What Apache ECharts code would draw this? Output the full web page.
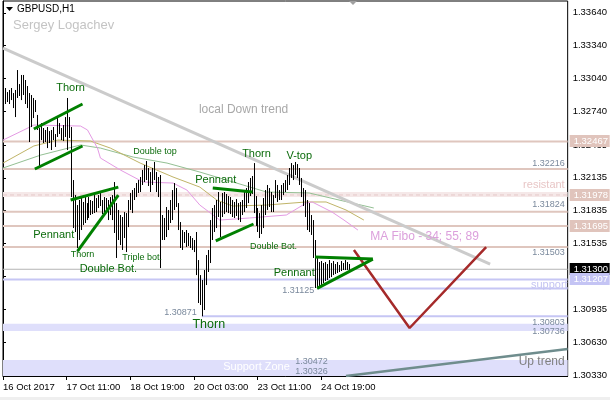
<!DOCTYPE html>
<html><head><meta charset="utf-8">
<script src="https://cdn.jsdelivr.net/npm/echarts@6/dist/echarts.min.js"></script>
<style>html,body{margin:0;padding:0;background:#fff}#c{width:610px;height:400px}</style>
</head><body><div id="c"></div>
<script>
// ---------- data ----------
const xTickBars = [0, 32, 64, 96, 128, 160];
const xTickLabels = ['16 Oct 2017', '17 Oct 11:00', '18 Oct 19:00', '20 Oct 03:00', '23 Oct 11:00', '24 Oct 19:00'];
const yTickValues = [1.30330, 1.30630, 1.30935, 1.31235, 1.31535, 1.31835, 1.32135, 1.32435, 1.32740, 1.33040, 1.33340, 1.33640];

const barHigh = [
1.32990,1.32954,1.32917,1.32936,1.32954,1.32908,1.32936,1.33118,1.32990,1.33073,
1.33073,1.33027,1.32972,1.32908,1.32890,1.32863,1.32844,1.32708,1.32589,1.32634,
1.32589,1.32571,1.32598,1.32561,1.32571,1.32598,1.32534,1.32689,1.32634,1.32589,
1.32616,1.32689,1.32863,1.32689,1.32598,1.32114,1.31977,1.31886,1.31932,1.31959,
1.31914,1.31959,1.31904,1.31959,1.31932,1.31923,1.31977,1.31950,1.31977,1.31996,
1.31932,1.31959,1.31950,1.31932,1.31959,1.31977,1.32096,1.31904,1.31841,1.31795,
1.31777,1.31822,1.31813,1.31932,1.31996,1.32023,1.32041,1.32087,1.32114,1.32142,
1.32206,1.32251,1.32288,1.32224,1.32187,1.32224,1.32279,1.32187,1.32142,1.32160,
1.31795,1.31768,1.31868,1.31841,1.31932,1.32023,1.32087,1.32041,1.31904,1.31731,
1.31658,1.31640,1.31658,1.31631,1.31603,1.31585,1.31567,1.31640,1.31384,1.31247,
1.31202,1.31293,1.31430,1.31476,1.31749,1.31859,1.31886,1.31932,1.32005,1.31914,
1.31996,1.32005,1.31987,1.31968,1.31959,1.31932,1.31914,1.31941,1.31904,1.31914,
1.31932,1.32023,1.32041,1.32096,1.32133,1.32151,1.32269,1.31968,1.31859,1.31813,
1.31886,1.31950,1.32023,1.32069,1.32041,1.32005,1.31977,1.32114,1.32069,1.32023,
1.32069,1.32087,1.32114,1.32160,1.32224,1.32269,1.32251,1.32279,1.32260,1.32224,
1.32133,1.32041,1.32023,1.31932,1.31904,1.31795,1.31749,1.31567,1.31403,1.31366,
1.31375,1.31357,1.31366,1.31348,1.31384,1.31357,1.31375,1.31348,1.31366,1.31339,
1.31375,1.31357,1.31384,1.31366,1.31348];
const barLow = [
1.32881,1.32808,1.32826,1.32808,1.32844,1.32771,1.32689,1.32863,1.32881,1.32844,
1.32890,1.32808,1.32771,1.32461,1.32598,1.32680,1.32735,1.32571,1.32224,1.32479,
1.32452,1.32461,1.32406,1.32452,1.32388,1.32479,1.32416,1.32507,1.32534,1.32479,
1.32470,1.32507,1.32388,1.32498,1.31959,1.31676,1.31640,1.31494,1.31567,1.31658,
1.31704,1.31722,1.31749,1.31768,1.31795,1.31804,1.31813,1.31822,1.31859,1.31877,
1.31804,1.31822,1.31841,1.31749,1.31795,1.31749,1.31631,1.31403,1.31567,1.31521,
1.31476,1.31585,1.31457,1.31685,1.31841,1.31813,1.31932,1.31959,1.31996,1.32005,
1.32069,1.32096,1.32114,1.32060,1.32005,1.32069,1.32114,1.32005,1.31959,1.31311,
1.31567,1.31567,1.31594,1.31658,1.31722,1.31749,1.31841,1.31868,1.31658,1.31494,
1.31476,1.31540,1.31503,1.31512,1.31494,1.31476,1.31457,1.31247,1.30992,1.30974,
1.30871,1.30928,1.31156,1.31275,1.31357,1.31567,1.31640,1.31676,1.31777,1.31594,
1.31777,1.31804,1.31822,1.31813,1.31804,1.31777,1.31768,1.31786,1.31749,1.31731,
1.31795,1.31822,1.31859,1.31904,1.31968,1.31987,1.31813,1.31695,1.31640,1.31585,
1.31622,1.31676,1.31795,1.31841,1.31868,1.31822,1.31822,1.31950,1.31914,1.31932,
1.31932,1.31977,1.32005,1.32023,1.32069,1.32133,1.32114,1.32160,1.32133,1.32069,
1.31959,1.31877,1.31777,1.31658,1.31640,1.31613,1.31403,1.31129,1.31125,1.31130,
1.31156,1.31174,1.31193,1.31202,1.31220,1.31229,1.31247,1.31257,1.31266,1.31275,
1.31284,1.31293,1.31293,1.31293,1.31284];

// moving averages (bar index, price)
const maFast = [[0,1.32479],[10.5,1.32571],[15.5,1.32616],[39,1.32607],[42.5,1.32571],[47.5,1.32406],[49,1.32315],[59,1.32206],[70.5,1.32096],[85.5,1.32087],[92.5,1.32023],[99,1.31886],[109,1.31749],[124,1.31768],[142.5,1.31795],[152.5,1.31904],[155.5,1.31914],[165.5,1.31822],[171.5,1.31749],[178.5,1.31658]];
const maMid = [[0,1.32269],[15.5,1.32425],[27.5,1.32479],[44,1.32470],[54,1.32406],[69,1.32269],[85.5,1.32142],[99,1.32050],[107.5,1.31932],[115.5,1.31877],[132.5,1.31886],[152.5,1.31914],[162.5,1.31914],[172.5,1.31841],[181.5,1.31749]];
const maSlow = [[0,1.32224],[19,1.32342],[39,1.32434],[49,1.32406],[65.5,1.32324],[82.5,1.32269],[99,1.32187],[132.5,1.32005],[154,1.31996],[169,1.31932],[186.5,1.31859]];

const resistanceLevels = [1.32467, 1.32216, 1.31824, 1.31695, 1.31503];
const resistantLevel = 1.31978;
const supportLevels = [[0, 1.31207], [158, 1.31125], [100, 1.30871]];
const supportBands = [[1.30736, 1.30803], [1.30326, 1.30472]];
const bidPrice = 1.31300;
const priceTags = [[1.32467, 'res'], [1.31978, 'res'], [1.31695, 'res'], [1.31300, 'bid'], [1.31207, 'sup']];

const downTrend = [[0, 1.33319], [245, 1.31348]];
const upTrend = [[172.5, 1.30326], [284, 1.30572]];
const forecastV = [[176.5, 1.31476], [204.5, 1.30764], [243, 1.31503]];
const patternLines = [
  [[15.5, 1.32580], [40, 1.32808]],
  [[16, 1.32215], [40, 1.32425]],
  [[34, 1.31932], [58, 1.32050]],
  [[37.5, 1.31466], [58, 1.31977]],
  [[105.5, 1.32041], [125.5, 1.32005]],
  [[107, 1.31558], [126, 1.31713]],
  [[157, 1.31412], [186, 1.31393]],
  [[158, 1.31125], [186, 1.31393]]
];

const annotations = [
  ['Thorn', 34, 1.32954, 'pat'],
  ['Pennant', 25.5, 1.31613, 'pat'],
  ['Thorn', 40, 1.31439, 'patS'],
  ['Double Bot.', 53, 1.31302, 'pat'],
  ['Triple bot.', 70, 1.31403, 'patS'],
  ['Double top', 76.5, 1.32379, 'patS'],
  ['Thorn', 127.5, 1.32352, 'pat'],
  ['V-top', 149, 1.32333, 'pat'],
  ['Pennant', 107, 1.32114, 'pat'],
  ['Double Bot.', 136, 1.31512, 'patS'],
  ['Pennant', 146.5, 1.31266, 'pat'],
  ['Thorn', 103.5, 1.30791, 'patL'],
  ['local Down trend', 121, 1.32753, 'trend'],
  ['MA Fibo - 34; 55; 89', 212, 1.31594, 'fibo'],
  ['Up trend', 282.5, 1.30453, 'upt'],
  ['resistant', 282.5, 1.32069, 'res'],
  ['support', 284, 1.31156, 'sup'],
  ['Support Zone', 127.5, 1.30408, 'zone'],
  ['1.32216', 282.5, 1.32269, 'lvl'],
  ['1.31824', 282.5, 1.31895, 'lvl'],
  ['1.31503', 282.5, 1.31457, 'lvl'],
  ['1.30803', 282.5, 1.30818, 'lvl'],
  ['1.30736', 282.5, 1.30736, 'lvl'],
  ['1.30871', 97.5, 1.30901, 'lvl'],
  ['1.31125', 156.5, 1.31110, 'lvl'],
  ['1.30472', 147, 1.30462, 'lvlL'],
  ['1.30326', 147, 1.30371, 'lvlL']
];

// ---------- styles ----------
const FONT = 'Liberation Sans, Arial, sans-serif';
const X_MAX = 284;
const annStyles = {
  pat:  {fill: '#0b6b0b', size: 11, align: 'center'},
  patS: {fill: '#0b6b0b', size: 9, align: 'center'},
  patL: {fill: '#0b6b0b', size: 12.5, align: 'center'},
  trend:{fill: '#a8a8a8', size: 12, align: 'center'},
  fibo: {fill: '#dca0dc', size: 12, align: 'center'},
  upt:  {fill: '#808080', size: 12, align: 'right'},
  res:  {fill: '#e8c6c6', size: 11, align: 'right'},
  sup:  {fill: '#c4c4f2', size: 11, align: 'right'},
  zone: {fill: '#ffffff', size: 11, align: 'center'},
  lvl:  {fill: '#7a899c', size: 9, align: 'right'},
  lvlL: {fill: '#7a899c', size: 9, align: 'left'}
};
const tagColors = {res: '#e0c4bc', bid: '#000000', sup: '#c4c4f4'};

function lineSeries(data, color, width, z, type) {
  return {type: 'line', data: data, symbol: 'none', silent: true, animation: false, z: z, clip: true,
    lineStyle: {color: color, width: width, type: type || 'solid'}};
}

const series = [];
// bands
series.push({
  type: 'custom', silent: true, animation: false, z: 1,
  data: supportBands.map(b => [b[0], b[1]]),
  encode: {y: [0, 1]},
  renderItem: (p, api) => {
    const a = api.coord([0, api.value(1)]);
    const b = api.coord([X_MAX, api.value(0)]);
    return {type: 'rect', shape: {x: a[0], y: a[1], width: b[0] - a[0], height: b[1] - a[1]}, style: {fill: '#dfdffb'}};
  }
});
// resistant band (pale) behind dashed level
series.push({
  type: 'custom', silent: true, animation: false, z: 1,
  data: [[resistantLevel]],
  encode: {y: 0},
  renderItem: (p, api) => {
    const a = api.coord([0, api.value(0)]);
    const b = api.coord([X_MAX, api.value(0)]);
    return {type: 'rect', shape: {x: a[0], y: a[1] - 3, width: b[0] - a[0], height: 5}, style: {fill: '#f5e8e8'}};
  }
});
resistanceLevels.forEach(v => series.push(lineSeries([[0, v], [X_MAX, v]], '#dfc6be', 2, 2)));
series.push(lineSeries([[0, resistantLevel], [X_MAX, resistantLevel]], '#e6c8c8', 1, 2, [4, 3]));
supportLevels.forEach(s => series.push(lineSeries([[s[0], s[1]], [X_MAX, s[1]]], '#c6c6f4', 2, 2)));
series.push(lineSeries([[0, bidPrice], [X_MAX, bidPrice]], '#b4b4b4', 1, 2));
// moving averages
series.push(lineSeries(maSlow, '#93c093', 1, 3));
series.push(lineSeries(maMid, '#c0b468', 1, 3));
series.push(lineSeries(maFast, '#e49ae4', 1, 3));
// trend lines
series.push(lineSeries(downTrend, '#cbcbcb', 3, 3));
// bars
series.push({
  type: 'custom', silent: true, animation: false, z: 4,
  data: barHigh.map((h, i) => [i, h, barLow[i]]),
  encode: {x: 0, y: [1, 2]},
  renderItem: (p, api) => {
    const t = api.coord([api.value(0), api.value(1)]);
    const b = api.coord([api.value(0), api.value(2)]);
    const x = Math.round(t[0]) + 0.5;
    return {type: 'line', shape: {x1: x, y1: t[1], x2: x, y2: b[1]}, style: {stroke: '#000', lineWidth: 1}};
  }
});
series.push(lineSeries(upTrend, '#6f8d8d', 2.5, 5));
series.push(lineSeries(forecastV, '#a52a2a', 2.5, 5));
patternLines.forEach(l => series.push(lineSeries(l, '#008000', 3, 5)));
// annotation texts
series.push({
  type: 'custom', silent: true, animation: false, z: 6, clip: false,
  data: annotations.map(a => [a[1], a[2]]),
  encode: {x: 0, y: 1},
  renderItem: (p, api) => {
    const a = annotations[p.dataIndex];
    const st = annStyles[a[3]];
    const pt = api.coord([api.value(0), api.value(1)]);
    return {type: 'text', x: pt[0], y: pt[1], style: {text: a[0], fill: st.fill, fontSize: st.size, fontFamily: FONT, align: st.align, verticalAlign: 'middle'}};
  }
});
// price tags on the right axis
series.push({
  type: 'custom', silent: true, animation: false, z: 10, clip: false,
  data: priceTags.map(t => [X_MAX, t[0]]),
  encode: {x: 0, y: 1},
  renderItem: (p, api) => {
    const t = priceTags[p.dataIndex];
    const pt = api.coord([api.value(0), api.value(1)]);
    return {type: 'group', children: [
      {type: 'rect', shape: {x: pt[0] + 2, y: Math.round(pt[1]) - 6, width: 40, height: 12}, style: {fill: tagColors[t[1]]}},
      {type: 'text', x: pt[0] + 6, y: Math.round(pt[1]), style: {text: t[0].toFixed(5), fill: '#ffffff', fontSize: 9.5, fontFamily: FONT, align: 'left', verticalAlign: 'middle'}}
    ]};
  }
});

const option = {
  animation: false,
  backgroundColor: '#ffffff',
  grid: {left: 2, right: 40, top: 1, bottom: 24, show: true, borderColor: '#000', borderWidth: 1, backgroundColor: 'transparent'},
  xAxis: {
    type: 'value', min: 0, max: X_MAX,
    axisLine: {lineStyle: {color: '#000', width: 1}},
    axisTick: {show: true, customValues: xTickBars, length: 4, lineStyle: {color: '#000'}},
    axisLabel: {customValues: xTickBars, formatter: v => { const k = xTickBars.indexOf(Math.round(v)); return k >= 0 ? xTickLabels[k] : ''; },
      align: 'left', margin: 6, fontSize: 9.5, color: '#000', fontFamily: FONT},
    splitLine: {show: false}
  },
  yAxis: {
    type: 'value', position: 'right', min: 1.30326, max: 1.33748, scale: true,
    axisLine: {show: true, lineStyle: {color: '#000', width: 1}},
    axisTick: {show: true, customValues: yTickValues, length: 3, lineStyle: {color: '#000'}},
    axisLabel: {customValues: yTickValues, formatter: v => v.toFixed(5), margin: 5, fontSize: 9.5, color: '#000', fontFamily: FONT},
    splitLine: {show: false}
  },
  graphic: [
    {type: 'polygon', shape: {points: [[6, 7], [13, 7], [9.5, 11]]}, style: {fill: '#000'}},
    {type: 'text', x: 17, y: 9, style: {text: 'GBPUSD,H1', fill: '#000', fontSize: 10, fontFamily: FONT, verticalAlign: 'middle'}},
    {type: 'text', x: 13, y: 25, style: {text: 'Sergey Logachev', fill: '#c4c4c4', fontSize: 13, fontFamily: FONT, verticalAlign: 'middle'}},
    {type: 'polygon', shape: {points: [[349, 1], [357, 1], [353, 5]]}, style: {fill: '#a0a0a0'}},
    {type: 'rect', shape: {x: 0, y: 397, width: 610, height: 3}, style: {fill: '#efefef'}}
  ],
  series: series
};
const chart = echarts.init(document.getElementById('c'), null, {renderer: 'canvas'});
chart.setOption(option);
</script></body></html>
